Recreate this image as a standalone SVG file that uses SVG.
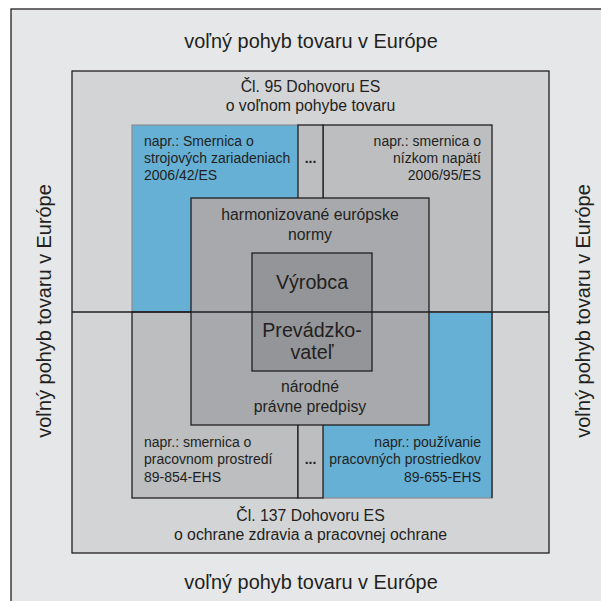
<svg xmlns="http://www.w3.org/2000/svg" width="601" height="601" viewBox="0 0 601 601">
<style>
text{font-family:"Liberation Sans",Arial,sans-serif;fill:#231f20}
.big{font-size:19.9px}
.mid{font-size:15.8px}
.sm{font-size:14px}
.c{text-anchor:middle}
.r{text-anchor:end}
.dk{stroke:#231f20;stroke-width:1.3}
.lt{stroke:#8e9194;stroke-width:1.3}
.dots{font-size:14px;font-weight:bold}
.in{font-size:19.7px}
</style>
<rect width="601" height="601" fill="#ffffff"/>
<g id="frame">
<rect x="11" y="9" width="600" height="600" fill="#e6e7e8" class="dk"/>
<text class="big c" x="311" y="48">voľný pohyb tovaru v Európe</text>
<text class="big c" x="311" y="589">voľný pohyb tovaru v Európe</text>
<text class="big c" transform="translate(51,311) rotate(-90)">voľný pohyb tovaru v Európe</text>
<text class="big c" transform="translate(590,311) rotate(-90)">voľný pohyb tovaru v Európe</text>
</g>
<g id="cl95">
<rect x="72" y="71" width="477" height="482" fill="#d3d4d6" class="dk"/>
<text class="mid c" x="310.5" y="92">Čl. 95 Dohovoru ES</text>
<text class="mid c" x="310.5" y="111">o voľnom pohybe tovaru</text>
<text class="mid c" x="310.5" y="521">Čl. 137 Dohovoru ES</text>
<text class="mid c" x="310.5" y="540">o ochrane zdravia a pracovnej ochrane</text>
</g>
<g id="smernica-strojove">
<rect x="132" y="125" width="166" height="187" fill="#66b0d6" class="lt"/>
<text class="sm" x="144" y="146">napr.: Smernica o</text>
<text class="sm" x="144" y="163">strojových zariadeniach</text>
<text class="sm" x="144" y="180">2006/42/ES</text>
</g>
<g id="smernica-napatie">
<rect x="323" y="125" width="169" height="187" fill="#bcbec0" class="dk"/>
<text class="sm r" x="481" y="146">napr.: smernica o</text>
<text class="sm r" x="481" y="163">nízkom napätí</text>
<text class="sm r" x="481" y="180">2006/95/ES</text>
</g>
<g id="smernica-prostredie">
<rect x="132" y="312" width="166" height="186" fill="#bcbec0" class="dk"/>
<text class="sm" x="144" y="447">napr.: smernica o</text>
<text class="sm" x="144" y="464">pracovnom prostredí</text>
<text class="sm" x="144" y="482">89-854-EHS</text>
</g>
<g id="pouzivanie">
<rect x="323" y="312" width="169" height="186" fill="#66b0d6" class="lt"/>
<line x1="492" y1="312" x2="492" y2="498" class="dk"/>
<text class="sm r" x="481" y="447">napr.: používanie</text>
<text class="sm r" x="481" y="464">pracovných prostriedkov</text>
<text class="sm r" x="481" y="482">89-655-EHS</text>
</g>
<g id="dots-column">
<rect x="298" y="125" width="25" height="373" fill="#bcbec0" class="dk"/>
<text class="dots c" x="310.5" y="163">...</text>
<text class="dots c" x="310.5" y="464">...</text>
</g>
<g id="connectors">
<line x1="72" y1="312" x2="549" y2="312" class="dk"/>
</g>
<g id="normy">
<rect x="191" y="198" width="238" height="227" fill="#a7a9ac" class="dk"/>
<line x1="191" y1="312" x2="429" y2="312" class="dk"/>
<text class="mid c" x="310" y="220">harmonizované európske</text>
<text class="mid c" x="310" y="240">normy</text>
<text class="mid c" x="310" y="392">národné</text>
<text class="mid c" x="310" y="412">právne predpisy</text>
</g>
<g id="vyrobca">
<rect x="252" y="253" width="120" height="118" fill="#939598" class="dk"/>
<line x1="252" y1="312" x2="372" y2="312" class="dk"/>
<text class="in c" x="312" y="289">Výrobca</text>
<text class="in c" x="312" y="337">Prevádzko-</text>
<text class="in c" x="312" y="359">vateľ</text>
</g>
</svg>
